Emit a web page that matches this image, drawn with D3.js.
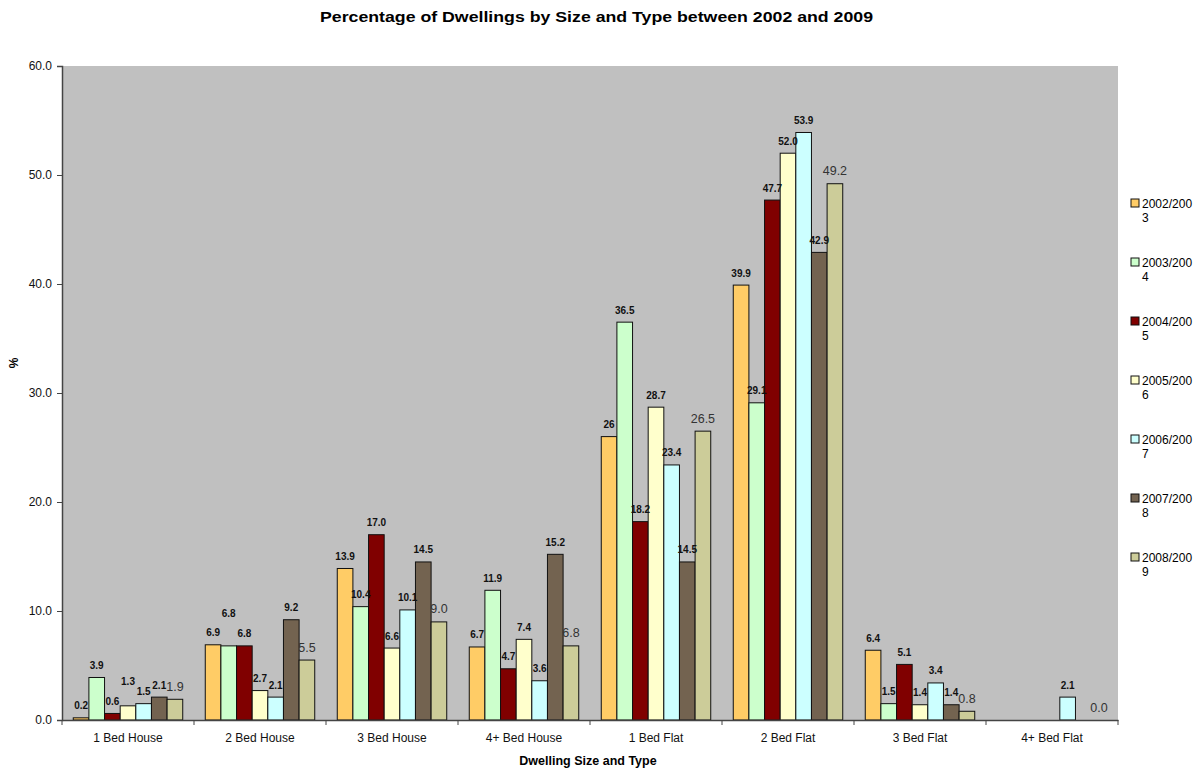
<!DOCTYPE html>
<html>
<head>
<meta charset="utf-8">
<script src="https://cdn.jsdelivr.net/npm/d3@7"></script>
<style>
  body { margin: 0; background: #fff; }
  text { font-family: "Liberation Sans", Arial, sans-serif; }
</style>
</head>
<body>
<svg id="chart" width="1201" height="771"></svg>
<script>
// Dwelling size / type categories along the x axis
const categories = ["1 Bed House", "2 Bed House", "3 Bed House", "4+ Bed House",
                    "1 Bed Flat", "2 Bed Flat", "3 Bed Flat", "4+ Bed Flat"];

// Survey years (one bar per year in each category)
const years = ["2002/2003", "2003/2004", "2004/2005", "2005/2006",
               "2006/2007", "2007/2008", "2008/2009"];

// Percentage values per year, in category order (null = no value)
const v2002 = [0.2, 6.9, 13.9, 6.7, 26.0, 39.9, 6.4, null];
const v2003 = [3.9, 6.8, 10.4, 11.9, 36.5, 29.1, 1.5, null];
const v2004 = [0.6, 6.8, 17.0, 4.7, 18.2, 47.7, 5.1, null];
const v2005 = [1.3, 2.7, 6.6, 7.4, 28.7, 52.0, 1.4, null];
const v2006 = [1.5, 2.1, 10.1, 3.6, 23.4, 53.9, 3.4, 2.1];
const v2007 = [2.1, 9.2, 14.5, 15.2, 14.5, 42.9, 1.4, null];
const v2008 = [1.9, 5.5, 9.0, 6.8, 26.5, 49.2, 0.8, 0.0];
const seriesValues = [v2002, v2003, v2004, v2005, v2006, v2007, v2008];

// Legend texts (wrapped onto two lines)
const legendLabels = [["2002/200", "3"], ["2003/200", "4"], ["2004/200", "5"],
                      ["2005/200", "6"], ["2006/200", "7"], ["2007/200", "8"],
                      ["2008/200", "9"]];

const yTicks = [0, 10, 20, 30, 40, 50, 60];

const colors = ["#FFCC66", "#CCFFCC", "#800000", "#FFFFCC", "#CCFFFF", "#736350", "#CCCC99"];

// Labels lifted clear of their neighbours ("series|category" -> extra px up)
const labelLift = { "3|0": 12, "1|1": 20 };

const svg = d3.select("#chart");
const plot = { left: 62, right: 1118, top: 66, bottom: 720 };

const x0 = d3.scaleBand().domain(categories).range([plot.left, plot.right]).paddingInner(0).paddingOuter(0);
const x1 = d3.scaleBand().domain(d3.range(years.length))
  .range([0, x0.bandwidth()]).paddingOuter(0.72).paddingInner(0);
const y = d3.scaleLinear().domain([0, 60]).range([plot.bottom, plot.top]);

// Plot background
svg.append("rect")
  .attr("x", plot.left).attr("y", plot.top)
  .attr("width", plot.right - plot.left).attr("height", plot.bottom - plot.top)
  .attr("fill", "#C0C0C0");

// Title
svg.append("text")
  .attr("x", 320).attr("y", 22)
  .attr("font-size", 15).attr("font-weight", "bold")
  .attr("textLength", 553).attr("lengthAdjust", "spacingAndGlyphs")
  .text("Percentage of Dwellings by Size and Type between 2002 and 2009");

// Bars
const groups = svg.append("g").selectAll("g")
  .data(seriesValues).join("g")
  .attr("fill", (d, i) => colors[i]);

groups.each(function (vals, si) {
  const g = d3.select(this);
  const pts = vals.map((v, ci) => ({ v, ci })).filter(d => d.v !== null);
  g.selectAll("rect").data(pts).join("rect")
    .attr("x", d => x0(categories[d.ci]) + x1(si))
    .attr("y", d => y(d.v))
    .attr("width", x1.bandwidth())
    .attr("height", d => y(0) - y(d.v))
    .attr("stroke", "#111")
    .attr("stroke-width", 1);
});

// Axes
const yAxis = d3.axisLeft(y).tickValues(yTicks).tickFormat(d3.format(".1f")).tickSize(5).tickPadding(5);
const gy = svg.append("g").attr("transform", `translate(${plot.left},0)`).call(yAxis);
gy.select(".domain").attr("stroke", "#444").attr("stroke-width", 1.5);
gy.selectAll(".tick line").attr("stroke", "#444");
gy.selectAll(".tick text").attr("font-size", 12).attr("fill", "#111")
  .attr("font-family", "Liberation Sans, Arial, sans-serif");

const xAxis = d3.axisBottom(x0).tickSize(0).tickPadding(13);
const gx = svg.append("g").attr("transform", `translate(0,${plot.bottom})`).call(xAxis);
gx.select(".domain").attr("stroke", "#444").attr("stroke-width", 1.5);
gx.selectAll(".tick text").attr("font-size", 12).attr("fill", "#111")
  .attr("font-family", "Liberation Sans, Arial, sans-serif");
// Category boundary ticks
gx.selectAll("line.sep")
  .data(categories.map(c => x0(c)).concat([plot.right]))
  .join("line").attr("class", "sep")
  .attr("x1", d => d).attr("x2", d => d)
  .attr("y1", 0).attr("y2", 5)
  .attr("stroke", "#444");

// Value labels
const fmt = (v, si) => (si === 0 && v === 26.0) ? "26" : v.toFixed(1);
seriesValues.forEach((vals, si) => {
  vals.forEach((v, ci) => {
    if (v === null) return;
    const cx = x0(categories[ci]) + x1(si) + x1.bandwidth() / 2;
    const last = si === years.length - 1;
    const lift = labelLift[si + "|" + ci] || 0;
    svg.append("text")
      .attr("x", cx)
      .attr("y", y(v) - 8.5 - lift)
      .attr("text-anchor", "middle")
      .attr("font-size", last ? 12.5 : 10)
      .attr("font-weight", last ? "normal" : "bold")
      .attr("fill", last ? "#333" : "#111")
      .text(fmt(v, si));
  });
});

// Axis titles
svg.append("text")
  .attr("transform", "translate(18,363) rotate(-90)")
  .attr("text-anchor", "middle")
  .attr("font-size", 12).attr("font-weight", "bold")
  .text("%");

svg.append("text")
  .attr("x", 588).attr("y", 765)
  .attr("text-anchor", "middle")
  .attr("font-size", 12.5).attr("font-weight", "bold")
  .text("Dwelling Size and Type");

// Legend
const legend = svg.append("g").selectAll("g")
  .data(legendLabels).join("g")
  .attr("transform", (d, i) => `translate(1131,${199 + i * 59})`);
legend.append("rect")
  .attr("width", 8).attr("height", 8)
  .attr("fill", (d, i) => colors[i])
  .attr("stroke", "#111").attr("stroke-width", 1);
legend.append("text")
  .attr("x", 11).attr("y", 8.5)
  .attr("font-size", 12)
  .selectAll("tspan").data(d => d).join("tspan")
  .attr("x", 11).attr("dy", (d, i) => i === 0 ? 0 : 14)
  .text(d => d);
</script>
</body>
</html>
